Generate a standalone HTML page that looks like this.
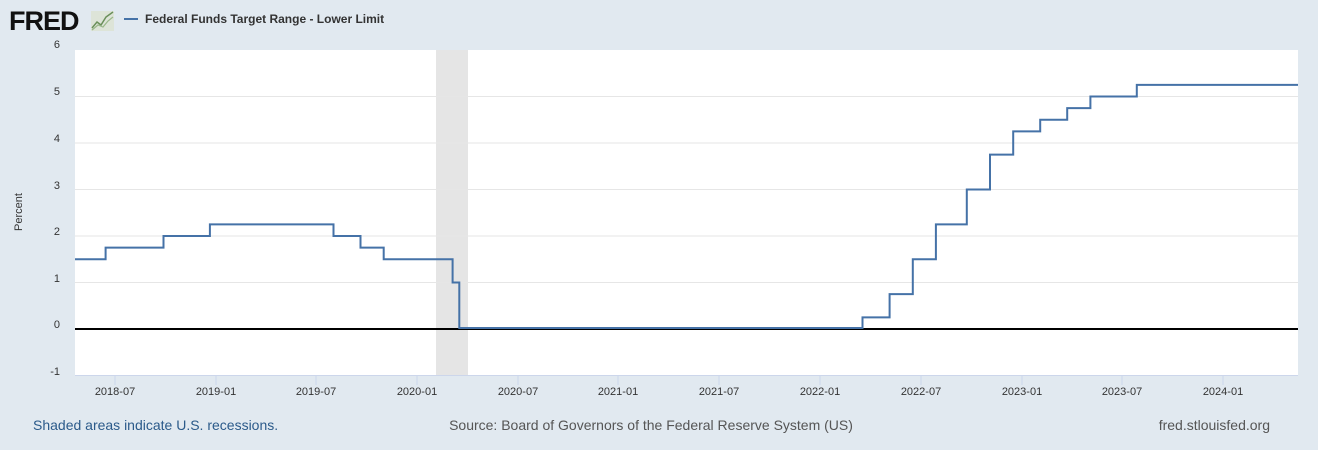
<!DOCTYPE html>
<html><head><meta charset="utf-8"><style>
body{margin:0;background:#e1e9f0;width:1318px;height:450px;overflow:hidden;font-family:"Liberation Sans",sans-serif}
</style></head><body>
<svg width="1318" height="450" xmlns="http://www.w3.org/2000/svg" style="position:absolute;left:0;top:0">
<rect width="1318" height="450" fill="#e1e9f0"/>
<text x="9" y="30" font-family="Liberation Sans" font-weight="bold" font-size="27" fill="#111" letter-spacing="-1">FRED</text>
<rect x="91" y="11" width="23" height="20" fill="#dde4d8"/>
<polyline points="92,28 97,22 101,25 106,17 113,12" fill="none" stroke="#6a8f5a" stroke-width="1.5"/>
<polyline points="92,30 98,25 103,27 108,21 113,17" fill="none" stroke="#9ab88a" stroke-width="1.2"/>
<line x1="124" y1="19" x2="138" y2="19" stroke="#4572a7" stroke-width="2"/>
<text x="145" y="23" font-size="12" font-weight="bold" fill="#333">Federal Funds Target Range - Lower Limit</text>
<rect x="75" y="50" width="1223" height="325" fill="#fff"/>
<rect x="436" y="50" width="32" height="325" fill="#e5e5e5"/>
<g stroke="#e6e6e6" stroke-width="1">
<line x1="75" x2="1298" y1="96.5" y2="96.5"/><line x1="75" x2="1298" y1="143" y2="143"/>
<line x1="75" x2="1298" y1="189.5" y2="189.5"/><line x1="75" x2="1298" y1="236" y2="236"/>
<line x1="75" x2="1298" y1="282.5" y2="282.5"/>
</g>
<line x1="75" x2="1298" y1="375.5" y2="375.5" stroke="#ccd6eb"/>
<g stroke="#ccd6eb">
<line x1="115" x2="115" y1="375" y2="385"/><line x1="216" x2="216" y1="375" y2="385"/><line x1="316" x2="316" y1="375" y2="385"/><line x1="417" x2="417" y1="375" y2="385"/><line x1="518" x2="518" y1="375" y2="385"/><line x1="618" x2="618" y1="375" y2="385"/><line x1="719" x2="719" y1="375" y2="385"/><line x1="820" x2="820" y1="375" y2="385"/><line x1="921" x2="921" y1="375" y2="385"/><line x1="1022" x2="1022" y1="375" y2="385"/><line x1="1122" x2="1122" y1="375" y2="385"/><line x1="1223" x2="1223" y1="375" y2="385"/>
</g>
<g font-size="11" fill="#333" text-anchor="middle">
<text x="115" y="395">2018-07</text><text x="216" y="395">2019-01</text><text x="316" y="395">2019-07</text><text x="417" y="395">2020-01</text><text x="518" y="395">2020-07</text><text x="618" y="395">2021-01</text><text x="719" y="395">2021-07</text><text x="820" y="395">2022-01</text><text x="921" y="395">2022-07</text><text x="1022" y="395">2023-01</text><text x="1122" y="395">2023-07</text><text x="1223" y="395">2024-01</text>
</g>
<g font-size="11" fill="#333" text-anchor="end">
<text x="60" y="48">6</text><text x="60" y="95">5</text><text x="60" y="142">4</text><text x="60" y="189">3</text><text x="60" y="235">2</text><text x="60" y="282">1</text><text x="60" y="328">0</text><text x="60" y="375">-1</text>
</g>
<text transform="translate(22,212) rotate(-90)" font-size="11" fill="#333" text-anchor="middle">Percent</text>
<line x1="75" x2="1298" y1="329" y2="329" stroke="#000" stroke-width="2"/>
<polyline fill="none" stroke="#4572a7" stroke-width="2" stroke-linejoin="miter" points="75,259.25 105.6,259.25 105.6,247.6 163.5,247.6 163.5,236 209.9,236 209.9,224.4 333.5,224.4 333.5,236 360.5,236 360.5,247.6 383.7,247.6 383.7,259.25 452.6,259.25 452.6,282.5 459.3,282.5 459.3,328 862.5,328 862.5,317.4 889.6,317.4 889.6,294.1 912.8,294.1 912.8,259.25 935.9,259.25 935.9,224.4 966.8,224.4 966.8,189.5 990,189.5 990,154.6 1013.2,154.6 1013.2,131.4 1040.2,131.4 1040.2,119.75 1067.2,119.75 1067.2,108.1 1090.4,108.1 1090.4,96.5 1136.8,96.5 1136.8,84.9 1298,84.9"/>
<text x="33" y="430" font-size="14" fill="#2b5a8a">Shaded areas indicate U.S. recessions.</text>
<text x="651" y="430" font-size="14" fill="#555" text-anchor="middle">Source: Board of Governors of the Federal Reserve System (US)</text>
<text x="1270" y="430" font-size="14" fill="#555" text-anchor="end">fred.stlouisfed.org</text>
</svg>
</body></html>
